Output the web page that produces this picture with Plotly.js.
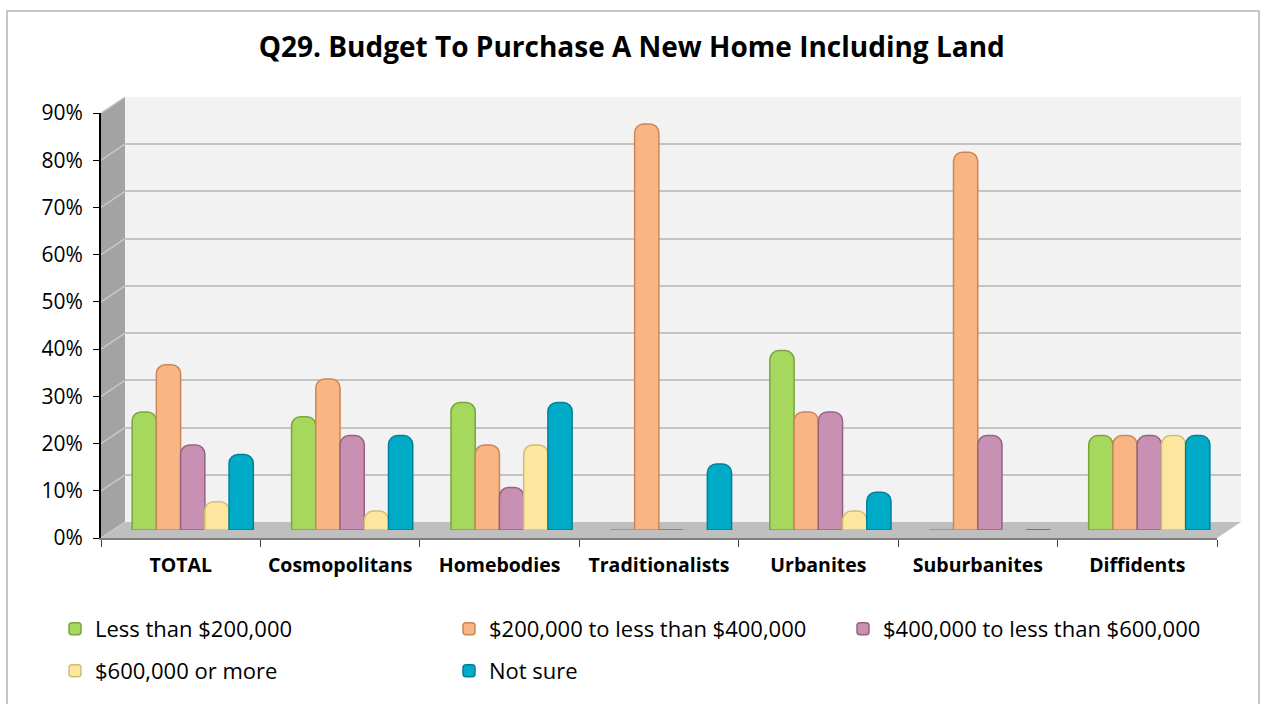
<!DOCTYPE html>
<html>
<head>
<meta charset="utf-8">
<script src="https://cdn.plot.ly/plotly-3.0.1.min.js"></script>
<style>html,body{margin:0;padding:0;background:#fff;}#chart{width:1261px;height:704px;}</style>
</head>
<body>
<div id="chart"></div>
<script>
// ---- data ----
const categories = ['TOTAL','Cosmopolitans','Homebodies','Traditionalists','Urbanites','Suburbanites','Diffidents'];
const seriesNames = ['Less than $200,000','$200,000 to less than $400,000','$400,000 to less than $600,000','$600,000 or more','Not sure'];
const lessThan200k   = [0.25, 0.24, 0.27, 0.00, 0.38, 0.00, 0.20];
const from200to400k  = [0.35, 0.32, 0.18, 0.86, 0.25, 0.80, 0.20];
const from400to600k  = [0.18, 0.20, 0.09, 0.00, 0.25, 0.20, 0.20];
const over600k       = [0.06, 0.04, 0.18, 0.00, 0.04, 0.00, 0.20];
const notSure        = [0.16, 0.20, 0.27, 0.14, 0.08, 0.00, 0.20];
const yTickVals = [0,0.1,0.2,0.3,0.4,0.5,0.6,0.7,0.8,0.9];
const yTickText = ['0%','10%','20%','30%','40%','50%','60%','70%','80%','90%'];

// ---- styling ----
const W = 1261, H = 704;
const px = v => v / W;
const py = v => 1 - v / H;
const fills = ['#a5d85c','#f9b584','#c890b3','#fde79e','#00abc7'];
const edges = ['#78a53c','#c98758','#956283','#d2bd72','#00819a'];
const FONT = '"Open Sans", "Noto Sans", sans-serif';

// geometry (front plane and depth offset of the 3-D box)
const front = {x0:101, x1:1217, y0:538, y1:113};
const depthX = 24, depthY = 16;
const catRange = [-0.5, categories.length - 0.5];

const series = [lessThan200k, from200to400k, from400to600k, over600k, notSure];
const traces = series.map((vals, i) => ({
  type: 'bar', name: seriesNames[i], x: categories, y: vals,
  xaxis: 'x2', yaxis: 'y2',
  marker: {color: fills[i], line: {color: edges[i], width: 1.5}, cornerradius: 9},
  legend: i < 3 ? 'legend' : 'legend2',
  hoverinfo: 'x+y'
}));
// helper traces so the back wall axes and front axes are drawn
traces.push({type:'scatter', mode:'markers', x: categories, y: categories.map(() => null), xaxis:'x', yaxis:'y', showlegend:false, hoverinfo:'skip'});
traces.push({type:'scatter', mode:'markers', x: categories, y: categories.map(() => null), xaxis:'x3', yaxis:'y3', showlegend:false, hoverinfo:'skip'});

const shapes = [];
// back wall
shapes.push({type:'rect', xref:'paper', yref:'paper', layer:'below',
  x0: px(front.x0+depthX), x1: px(front.x1+depthX), y0: py(front.y0-depthY), y1: py(front.y1-depthY),
  fillcolor:'#f2f2f2', line:{width:0}});
// left side wall
shapes.push({type:'path', xref:'paper', yref:'paper', layer:'below',
  path: `M${px(front.x0)},${py(front.y1)} L${px(front.x0+depthX)},${py(front.y1-depthY)} L${px(front.x0+depthX)},${py(front.y0-depthY)} L${px(front.x0)},${py(front.y0)} Z`,
  fillcolor:'#a3a3a3', line:{width:0}});
// floor
shapes.push({type:'path', xref:'paper', yref:'paper', layer:'below',
  path: `M${px(front.x0)},${py(front.y0)} L${px(front.x0+depthX)},${py(front.y0-depthY)} L${px(front.x1+depthX)},${py(front.y0-depthY)} L${px(front.x1)},${py(front.y0)} Z`,
  fillcolor:'#bfbfbf', line:{width:0}});
// diagonal grid lines on side wall (from tick values)
const pxPer = (front.y0 - front.y1) / 0.9;
yTickVals.forEach(t => {
  const yf = front.y0 - t * pxPer;
  shapes.push({type:'line', xref:'paper', yref:'paper', layer:'below',
    x0: px(front.x0), y0: py(yf), x1: px(front.x0+depthX), y1: py(yf-depthY),
    line:{color:'#c8c8c8', width:1.5}});
});
// outer frame
shapes.push({type:'rect', xref:'paper', yref:'paper', layer:'above',
  x0: px(7), x1: px(1259), y0: py(712), y1: py(11), line:{color:'#c6c6c6', width:2}});

const legendCommon = {orientation:'h', xanchor:'left', yanchor:'middle', entrywidth: 349, entrywidthmode:'pixels',
  font:{family: FONT, size:22, color:'#000'}, bgcolor:'rgba(0,0,0,0)', traceorder:'normal', itemwidth: 30};

const layout = {
  width: W, height: H,
  margin: {l:0, r:0, t:0, b:0},
  paper_bgcolor: '#ffffff', plot_bgcolor: 'rgba(0,0,0,0)',
  font: {family: FONT, color: '#000', size: 19},
  title: {text: '<b>Q29. Budget To Purchase A New Home Including Land</b>', x: 0.501, xanchor:'center', y: py(47), yanchor:'middle',
    font: {family: FONT, size: 28, color:'#000'}},
  barmode: 'group', bargap: 0.24, bargroupgap: 0,
  showlegend: true,
  // back wall axes
  xaxis: {domain:[px(front.x0+depthX), px(front.x1+depthX)], visible:false, type:'category', categoryarray: categories, range: catRange, fixedrange:true},
  yaxis: {domain:[py(front.y0-depthY), py(front.y1-depthY)], range:[0,0.9], tickvals: yTickVals, showticklabels:false,
    showgrid:true, gridcolor:'#c4c4c4', gridwidth:2, zeroline:false, showline:false, ticks:'', fixedrange:true},
  // mid-depth axes carrying the bars
  xaxis2: {domain:[px(front.x0+depthX/2), px(front.x1+depthX/2)], visible:false, type:'category', categoryarray: categories, range: catRange, anchor:'y2', fixedrange:true},
  yaxis2: {domain:[py(front.y0-depthY/2), py(front.y1-depthY/2)], range:[0,0.9], visible:false, anchor:'x2', fixedrange:true},
  // front axes with labels
  xaxis3: {domain:[px(front.x0), px(front.x1)], type:'category', categoryarray: categories, range: catRange, anchor:'y3',
    showline:true, linecolor:'#7f7f7f', linewidth:2, ticks:'outside', tickson:'boundaries', ticklen:7, tickcolor:'#404040',
    tickfont:{family: FONT, size:19.5, color:'#000', weight:'bold'}, ticklabelstandoff: 9, showgrid:false, fixedrange:true},
  yaxis3: {domain:[py(front.y0), py(front.y1)], range:[0,0.9], anchor:'x3', tickvals: yTickVals, ticktext: yTickText,
    showline:true, linecolor:'#000', linewidth:2, ticks:'outside', ticklen:6, tickcolor:'#000',
    tickfont:{family: FONT, size:21, color:'#000'}, ticklabelstandoff: 6, showgrid:false, zeroline:false, fixedrange:true},
  legend: Object.assign({}, legendCommon, {x: px(55), y: py(629)}),
  legend2: Object.assign({}, legendCommon, {x: px(55), y: py(671)}),
  shapes: shapes
};

Plotly.newPlot('chart', traces, layout, {displayModeBar:false, staticPlot:true});
</script>
</body>
</html>
